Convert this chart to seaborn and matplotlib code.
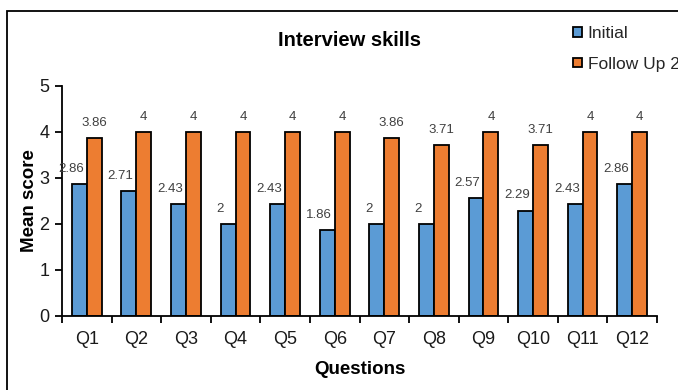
import matplotlib
matplotlib.use("Agg")
import matplotlib.pyplot as plt
import matplotlib.patches as mpatches
import seaborn as sns
import pandas as pd

questions = ["Q1", "Q2", "Q3", "Q4", "Q5", "Q6", "Q7", "Q8", "Q9", "Q10", "Q11", "Q12"]
initial = [2.86, 2.71, 2.43, 2, 2.43, 1.86, 2, 2, 2.57, 2.29, 2.43, 2.86]
follow_up = [3.86, 4, 4, 4, 4, 4, 3.86, 3.71, 4, 3.71, 4, 4]
series_names = ["Initial", "Follow Up 2"]
y_ticks = [0, 1, 2, 3, 4, 5]

df = pd.DataFrame({
    "Questions": questions * 2,
    "Series": [series_names[0]] * len(questions) + [series_names[1]] * len(questions),
    "Mean score": initial + follow_up,
})

sns.set_theme(style="white")
plt.rcParams["font.family"] = ["Liberation Sans", "DejaVu Sans"]

colors = {"Initial": "#5B9BD5", "Follow Up 2": "#ED7D31"}

fig = plt.figure(figsize=(6.78, 3.90), dpi=100)
ax = fig.add_axes([62 / 678, 74 / 390, 595 / 678, 230 / 390])

sns.barplot(data=df, x="Questions", y="Mean score", hue="Series",
            palette=colors, saturation=1, width=0.6, edgecolor="black", linewidth=1.3,
            order=questions, hue_order=series_names, ax=ax, legend=False)

# value labels
for container, name in zip(ax.containers, series_names):
    dx = -6 if name == "Initial" else 0
    for bar in container:
        h = bar.get_height()
        ax.annotate(f"{h:g}", (bar.get_x() + bar.get_width() / 2, h),
                    xytext=(dx, 11), textcoords="offset points",
                    ha="center", va="center", fontsize=9.5, color="#404040")

ax.set_xlim(-0.5, len(questions) - 0.5)
ax.set_ylim(0, 5)
ax.set_yticks(y_ticks)
ax.set_yticklabels([str(t) for t in y_ticks], fontsize=13, color="#1a1a1a")
ax.set_xticks(range(len(questions)))
ax.set_xticklabels(questions, fontsize=13, color="#1a1a1a")
ax.set_xticks([i - 0.5 for i in range(len(questions) + 1)], minor=True)
ax.tick_params(axis="x", which="major", length=0, pad=11)
ax.tick_params(axis="x", which="minor", length=5, width=1.3, color="black", direction="out", bottom=True)
ax.tick_params(axis="y", which="major", length=5, width=1.3, color="black", direction="out", left=True, pad=4)

for s in ["top", "right"]:
    ax.spines[s].set_visible(False)
for s in ["left", "bottom"]:
    ax.spines[s].set_color("black")
    ax.spines[s].set_linewidth(1.3)

ax.set_xlabel("Questions", fontsize=13.5, fontweight="bold", color="black", labelpad=9)
ax.set_ylabel("Mean score", fontsize=13.5, fontweight="bold", color="black", labelpad=1)

fig.text(349 / 678, 1 - 40 / 390, "Interview skills", ha="center", va="center",
         fontsize=14.5, fontweight="bold", color="black")

handles = [mpatches.Patch(facecolor=colors[n], edgecolor="black", linewidth=1.3, label=n)
           for n in series_names]
fig.legend(handles=handles, loc="upper left", bbox_to_anchor=(573 / 678, 1 - 26 / 390),
           frameon=False, fontsize=12.5, handlelength=0.5, handleheight=0.5,
           handletextpad=0.35, labelspacing=0.9, borderaxespad=0, borderpad=0)

# chart area border
fig.patches.append(mpatches.Rectangle((7 / 678, -0.1), 1.2, 1 - 11 / 390 + 0.1,
                                      transform=fig.transFigure, fill=False,
                                      edgecolor="black", linewidth=1.3))

fig.savefig("out.png", dpi=100)
